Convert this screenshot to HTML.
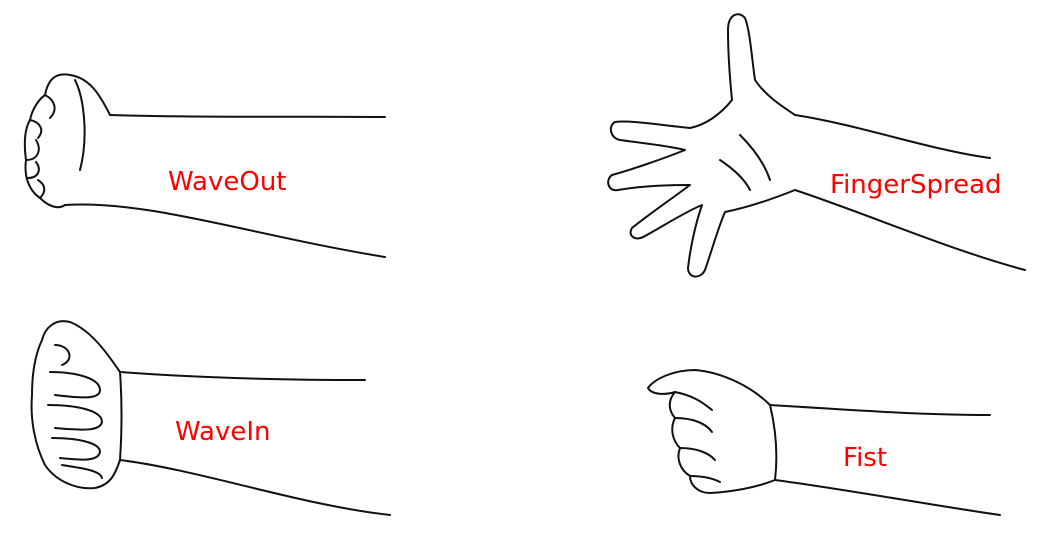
<!DOCTYPE html>
<html><head><meta charset="utf-8"><style>
html,body{margin:0;padding:0;background:#fff;width:1042px;height:552px;overflow:hidden}
svg{display:block}
text{font-family:"DejaVu Sans","Liberation Sans",sans-serif;font-size:26px;fill:#ff0000}
path{fill:none;stroke:#111;stroke-width:2;stroke-linecap:round;stroke-linejoin:round}
</style></head><body>
<svg width="1042" height="552" viewBox="0 0 1042 552">
<g>
<path d="M110,115 C200,118 300,116 385,117"/>
<path d="M65,205 C150,200 250,235 385,257"/>
<path d="M110,115 C100,95 90,78 70,75 C55,72 48,80 45,95 C38,100 32,110 30,120 C24,130 24,145 26,160 C24,175 28,190 40,198 C48,206 58,210 65,205"/>
<path d="M45,95 C55,100 58,110 50,118 M30,120 C40,122 45,130 38,138 M26,160 C38,160 42,150 36,140 M28,178 C38,178 42,170 36,162 M40,198 C46,192 46,185 38,180"/>
<path d="M75,80 C85,100 88,140 80,170"/>
</g>
<g>
<path d="M795,115 C860,125 930,150 990,158"/>
<path d="M795,190 C870,215 950,250 1025,270"/>
<path d="M795,115 C780,105 765,95 755,80 C752,60 750,30 745,18 C738,10 728,15 728,30 C728,55 730,80 732,100 C720,115 705,125 690,128 C660,125 630,120 615,122 C608,126 610,138 620,140 C640,143 665,145 685,150 C660,160 630,170 612,175 C605,180 608,192 618,190 C640,186 665,185 690,185 C670,200 648,215 632,228 C627,236 636,242 645,236 C665,225 685,212 702,205 C695,225 690,250 688,268 C688,278 700,280 705,270 C712,250 718,228 725,212 C745,208 770,200 795,190"/>
<path d="M740,135 C755,150 765,165 770,180 M720,160 C735,170 745,180 750,190"/>
</g>
<g>
<path d="M120,372 C200,378 290,380 365,380"/>
<path d="M120,460 C200,470 300,505 390,515"/>
<path d="M120,372 C105,350 90,330 70,322 C55,318 45,328 42,340 C35,355 32,375 32,395 C30,420 35,445 45,465 C55,480 75,490 95,488 C110,485 115,475 120,460 C122,430 122,400 120,372"/>
<path d="M55,345 C70,345 75,360 62,365 M50,372 C75,372 100,378 100,390 C100,400 80,398 55,395 M48,405 C75,405 102,410 102,422 C100,432 80,430 55,428 M52,438 C75,438 100,442 100,452 C98,462 80,460 60,458 M62,465 C80,468 100,470 102,478"/>
</g>
<g>
<path d="M770,405 C850,410 920,415 990,415"/>
<path d="M775,480 C850,490 930,505 1000,515"/>
<path d="M770,405 C750,385 720,372 695,370 C675,370 655,378 648,388 C652,395 665,395 675,392 C668,400 668,410 675,418 C670,428 672,440 680,448 C676,458 680,470 690,476 C690,485 698,493 710,493 C730,492 755,488 775,480 C778,455 776,430 770,405"/>
<path d="M675,392 C690,395 700,400 712,410 M675,418 C690,418 705,422 712,432 M680,448 C695,448 708,452 715,460 M690,476 C702,476 712,478 720,482"/>
</g>
<text x="168" y="190">WaveOut</text>
<text x="830" y="193">FingerSpread</text>
<text x="175" y="440">WaveIn</text>
<text x="843" y="466">Fist</text>
</svg>
</body></html>
